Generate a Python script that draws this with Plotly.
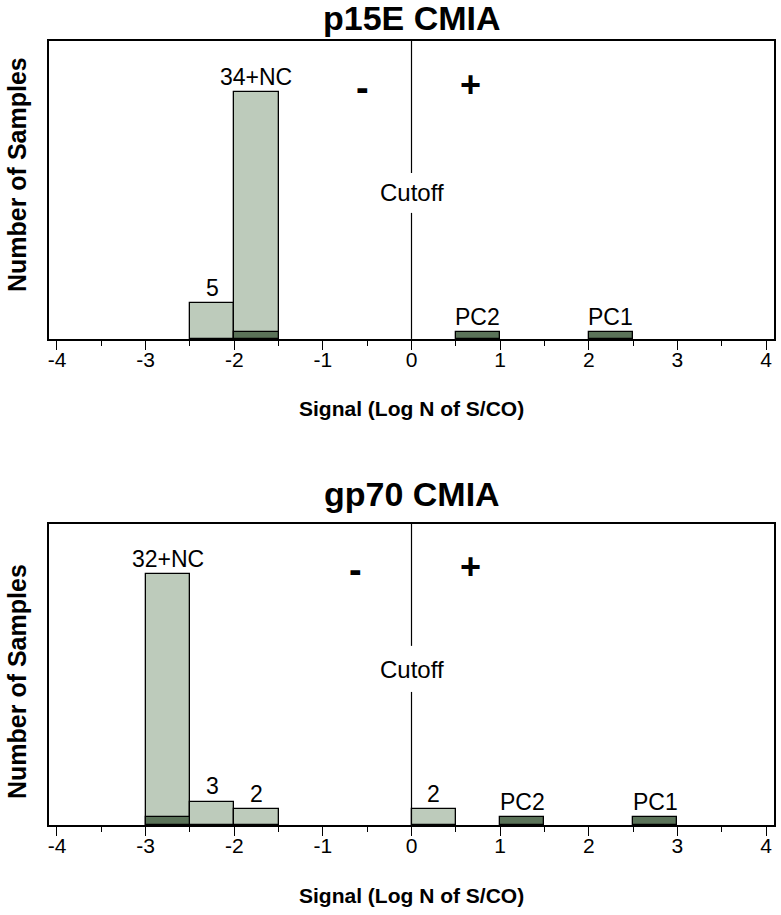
import plotly.graph_objects as go

# ---------------- data ----------------
# bin left edges (width 0.5 log units), sample counts and control counts
p15e_bins = [-2.5, -2.0, 0.5, 2.0]
p15e_counts = [5, 34, 0, 0]
p15e_controls = [0, 1, 1, 1]
p15e_labels = ["5", "34+NC", "PC2", "PC1"]

gp70_bins = [-3.0, -2.5, -2.0, 0.0, 1.0, 2.5]
gp70_counts = [32, 3, 2, 2, 0, 0]
gp70_controls = [1, 0, 0, 0, 1, 1]
gp70_labels = ["32+NC", "3", "2", "2", "PC2", "PC1"]

titles = ["p15E CMIA", "gp70 CMIA"]
x_title = "Signal (Log N of S/CO)"
y_title = "Number of Samples"
tick_vals = [-4, -3, -2, -1, 0, 1, 2, 3, 4]
tick_text = ["-4", "-3", "-2", "-1", "0", "1", "2", "3", "4"]
cutoff = 0
bin_width = 0.5

LIGHT = "#bdcbbb"
DARK = "#5b7359"
FONT = "Liberation Sans, Arial, Helvetica, sans-serif"

fig = go.Figure()

panels = [
    (p15e_bins, p15e_counts, p15e_controls, p15e_labels, "x", "y"),
    (gp70_bins, gp70_counts, gp70_controls, gp70_labels, "x2", "y2"),
]

for bins, counts, ctrls, labels, xa, ya in panels:
    lb = [b for b, c in zip(bins, counts) if c > 0]
    lc = [c for c in counts if c > 0]
    db = [b for b, c in zip(bins, ctrls) if c > 0]
    dc = [c for c in ctrls if c > 0]
    fig.add_trace(go.Bar(x=lb, y=lc, width=bin_width, offset=0, xaxis=xa, yaxis=ya,
                         marker=dict(color=LIGHT, line=dict(color="black", width=1.3)),
                         showlegend=False, hoverinfo="skip"))
    fig.add_trace(go.Bar(x=db, y=dc, width=bin_width, offset=0, xaxis=xa, yaxis=ya,
                         marker=dict(color=DARK, line=dict(color="black", width=1.3)),
                         showlegend=False, hoverinfo="skip"))
    for b, c, k, t in zip(bins, counts, ctrls, labels):
        fig.add_annotation(x=b + bin_width / 2, y=max(c, k), xref=xa, yref=ya,
                           text=t, showarrow=False, yanchor="bottom", yshift=0,
                           font=dict(size=23, color="black", family=FONT))

axis_common = dict(
    range=[-4.09, 4.09], tickvals=tick_vals, ticktext=tick_text, ticks="outside",
    ticklen=9, tickwidth=1.3, ticklabelstandoff=-8, ticklabeloverflow="allow",
    tickcolor="black", showline=True, linecolor="black", linewidth=1.6, mirror=True,
    showgrid=False, zeroline=False, tickfont=dict(size=21, color="black", family=FONT),
    minor=dict(dtick=0.5, tick0=0, ticks="outside", ticklen=5, tickwidth=1.3, tickcolor="black"),
    automargin=False,
)
yaxis_common = dict(
    showticklabels=False, ticks="", showline=True, linecolor="black", linewidth=1.6,
    mirror=True, showgrid=False, zeroline=False, automargin=False,
)

fig.update_layout(
    width=781, height=915,
    margin=dict(l=49, r=7, t=41, b=90),
    paper_bgcolor="white", plot_bgcolor="white",
    barmode="overlay", bargap=0,
    xaxis=dict(domain=[0, 1], anchor="y", **axis_common),
    yaxis=dict(domain=[0.62, 1.0], anchor="x", range=[0, 41.0], **yaxis_common),
    xaxis2=dict(domain=[0, 1], anchor="y2", **axis_common),
    yaxis2=dict(domain=[0.0, 0.384], anchor="x2", range=[0, 38.4], **yaxis_common),
    font=dict(family=FONT, color="black"),
)

# panel titles, x titles, y titles
for title, ya, title_y, title_shift, xt_y, yt_y in [
    (titles[0], "y", 1.0, 23, 0.62, 0.55),
    (titles[1], "y2", 0.384, 30, 0.0, 0.475),
]:
    fig.add_annotation(text=f"<b>{title}</b>", xref="paper", yref="paper", x=0.5, y=title_y,
                       yshift=title_shift, showarrow=False, yanchor="middle",
                       font=dict(size=34, color="black", family=FONT))
    fig.add_annotation(text=f"<b>{x_title}</b>", xref="paper", yref="paper", x=0.5, y=xt_y,
                       yshift=-70, showarrow=False, yanchor="middle",
                       font=dict(size=21, color="black", family=FONT))
    fig.add_annotation(text=f"<b>{y_title}</b>", xref="paper", yref=ya + " domain", x=0,
                       y=yt_y, xshift=-32, textangle=-90, showarrow=False,
                       xanchor="center", yanchor="middle",
                       font=dict(size=25, color="black", family=FONT))

# cutoff lines with gap for the label, and -/+ signs
cut_specs = [
    ("x", "y", 0.557, 0.423, 0.49, (-0.55, 0.919), (0.67, 0.929)),
    ("x2", "y2", 0.595, 0.442, 0.518, (-0.63, 0.925), (0.67, 0.933)),
]
for xa, ya, g_top, g_bot, txt_y, minus_pos, plus_pos in cut_specs:
    yd = ya + " domain"
    fig.add_shape(type="line", xref=xa, yref=yd, x0=cutoff, x1=cutoff, y0=g_top, y1=1,
                  line=dict(color="black", width=1.2))
    fig.add_shape(type="line", xref=xa, yref=yd, x0=cutoff, x1=cutoff, y0=0, y1=g_bot,
                  line=dict(color="black", width=1.2))
    fig.add_annotation(text="Cutoff", xref=xa, yref=yd, x=cutoff, y=txt_y, showarrow=False,
                       font=dict(size=24, color="black", family=FONT))
    fig.add_annotation(text="<b>-</b>", xref=xa, yref=yd, x=minus_pos[0], y=minus_pos[1],
                       showarrow=False, font=dict(size=38, color="black", family=FONT))
    fig.add_annotation(text="<b>+</b>", xref=xa, yref=yd, x=plus_pos[0], y=plus_pos[1],
                       showarrow=False, font=dict(size=36, color="black", family=FONT))

# remove the default page margin so the figure fills the window exactly
fig.write_html("out.html", config={"displayModeBar": False},
               post_script="document.body.style.margin='0';")
